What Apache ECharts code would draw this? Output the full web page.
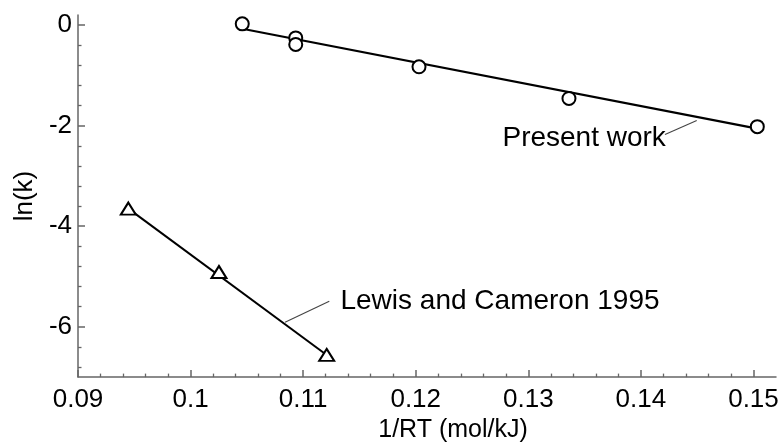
<!DOCTYPE html>
<html><head><meta charset="utf-8">
<script src="https://cdn.jsdelivr.net/npm/echarts@6/dist/echarts.min.js"></script>
<style>html,body{margin:0;padding:0;background:#fff}#c{width:783px;height:448px}</style>
</head><body><div id="c"></div>
<script>
// Tick values
const xMajorTicks = [0.09, 0.10, 0.11, 0.12, 0.13, 0.14, 0.15];
const xMinorTicks = [0.092, 0.094, 0.096, 0.098, 0.102, 0.104, 0.106, 0.108,
  0.112, 0.114, 0.116, 0.118, 0.122, 0.124, 0.126, 0.128, 0.132, 0.134, 0.136, 0.138,
  0.142, 0.144, 0.146, 0.148];
const yMajorTicks = [-6, -4, -2, 0];
const yMinorTicks = [-6.8, -6.4, -5.6, -5.2, -4.8, -4.4, -3.6, -3.2, -2.8, -2.4,
  -1.6, -1.2, -0.8, -0.4];

// Present work (circles)
const presentX = [0.10459, 0.10934, 0.10934, 0.12029, 0.13361, 0.15034];
const presentY = [0.024, -0.255, -0.385, -0.83, -1.46, -2.02];
// Present work fitted line endpoints
const presentFitX = [0.10459, 0.15034];
const presentFitY = [-0.073, -2.06];

// Lewis and Cameron 1995 (triangles)
const lewisX = [0.09447, 0.10252, 0.11209];
const lewisY = [-3.65, -4.91, -6.56];
const lewisFitX = [0.09447, 0.11209];
const lewisFitY = [-3.65, -6.56];

// Annotation labels and leader lines
const labelTexts = ['Present work', 'Lewis and Cameron 1995'];
const labelX = [0.12766, 0.11327];
const labelY = [-2.26, -5.49];
const presentLeaderX = [0.14214, 0.14496];
const presentLeaderY = [-2.175, -1.90];
const lewisLeaderX = [0.10839, 0.11232];
const lewisLeaderY = [-5.91, -5.49];

const zip = (a, b) => a.map((v, i) => [v, b[i]]);
const FONT = '"Liberation Sans", Arial, Helvetica, sans-serif';
const AXC = '#666';
const TXT = '#000';

const chart = echarts.init(document.getElementById('c'), null, {renderer: 'canvas'});
const xMin = 0.09, xMax = 0.152, yMin = -7, yMax = 0.2;

const option = {
  animation: false,
  backgroundColor: '#fff',
  grid: {left: 78, right: 7, top: 15, bottom: 64},
  xAxis: [
    {
      type: 'value', min: xMin, max: xMax, position: 'bottom',
      name: '1/RT (mol/kJ)', nameLocation: 'middle', nameGap: 35,
      nameTextStyle: {fontSize: 25, color: TXT, fontFamily: FONT, padding: [0, 0, 0, 52]},
      axisLine: {show: true, onZero: false, lineStyle: {color: AXC, width: 1.5}},
      axisTick: {show: true, inside: true, length: 7, customValues: xMajorTicks, lineStyle: {color: AXC, width: 1.5}},
      axisLabel: {show: true, customValues: xMajorTicks, margin: 10, fontSize: 26, color: TXT, fontFamily: FONT,
        formatter: v => String(+(+v).toFixed(3))},
      splitLine: {show: false}
    },
    {
      type: 'value', min: xMin, max: xMax, position: 'bottom',
      axisLine: {show: false, onZero: false},
      axisTick: {show: true, inside: true, length: 3.5, customValues: xMinorTicks, lineStyle: {color: AXC, width: 1.3}},
      axisLabel: {show: false},
      splitLine: {show: false}
    }
  ],
  yAxis: [
    {
      type: 'value', min: yMin, max: yMax, position: 'left',
      name: 'ln(k)', nameLocation: 'middle', nameGap: 37,
      nameTextStyle: {fontSize: 26, color: TXT, fontFamily: FONT},
      axisLine: {show: true, onZero: false, lineStyle: {color: AXC, width: 1.5}},
      axisTick: {show: true, inside: true, length: 7, customValues: yMajorTicks, lineStyle: {color: AXC, width: 1.5}},
      axisLabel: {show: true, customValues: yMajorTicks, margin: 6, fontSize: 26, color: TXT, fontFamily: FONT,
        formatter: v => String(v)},
      splitLine: {show: false}
    },
    {
      type: 'value', min: yMin, max: yMax, position: 'left',
      axisLine: {show: false, onZero: false},
      axisTick: {show: true, inside: true, length: 3.5, customValues: yMinorTicks, lineStyle: {color: AXC, width: 1.3}},
      axisLabel: {show: false},
      splitLine: {show: false}
    }
  ],
  series: [
    {
      type: 'line', xAxisIndex: 0, yAxisIndex: 0, data: zip(presentFitX, presentFitY),
      symbol: 'none', silent: true, lineStyle: {color: '#000', width: 2.2}, z: 2
    },
    {
      type: 'line', xAxisIndex: 0, yAxisIndex: 0, data: zip(lewisFitX, lewisFitY),
      symbol: 'none', silent: true, lineStyle: {color: '#000', width: 2}, z: 2
    },
    {
      type: 'line', xAxisIndex: 0, yAxisIndex: 0, data: zip(presentLeaderX, presentLeaderY),
      symbol: 'none', silent: true, lineStyle: {color: '#444', width: 1.1}, z: 2
    },
    {
      type: 'line', xAxisIndex: 0, yAxisIndex: 0, data: zip(lewisLeaderX, lewisLeaderY),
      symbol: 'none', silent: true, lineStyle: {color: '#444', width: 1.1}, z: 2
    },
    {
      type: 'scatter', xAxisIndex: 0, yAxisIndex: 0, data: zip(presentX, presentY),
      symbol: 'circle', symbolSize: 13, silent: true,
      itemStyle: {color: '#fff', borderColor: '#000', borderWidth: 2, opacity: 1}, z: 5
    },
    {
      type: 'scatter', xAxisIndex: 0, yAxisIndex: 0, data: zip(lewisX, lewisY),
      symbol: 'triangle', symbolSize: [15, 12], silent: true,
      itemStyle: {color: '#fff', borderColor: '#000', borderWidth: 2, opacity: 1}, z: 5
    },
    {
      type: 'scatter', xAxisIndex: 0, yAxisIndex: 0,
      data: labelTexts.map((t, i) => ({value: [labelX[i], labelY[i]], name: t})),
      symbol: 'circle', symbolSize: 1, silent: true, itemStyle: {color: '#fff', opacity: 0},
      label: {show: true, position: 'right', distance: 0, align: 'left', verticalAlign: 'middle',
        formatter: p => p.name, fontSize: 28, color: TXT, opacity: 1, textBorderWidth: 0, fontFamily: FONT}, z: 6
    }
  ]
};
chart.setOption(option);
</script></body></html>
